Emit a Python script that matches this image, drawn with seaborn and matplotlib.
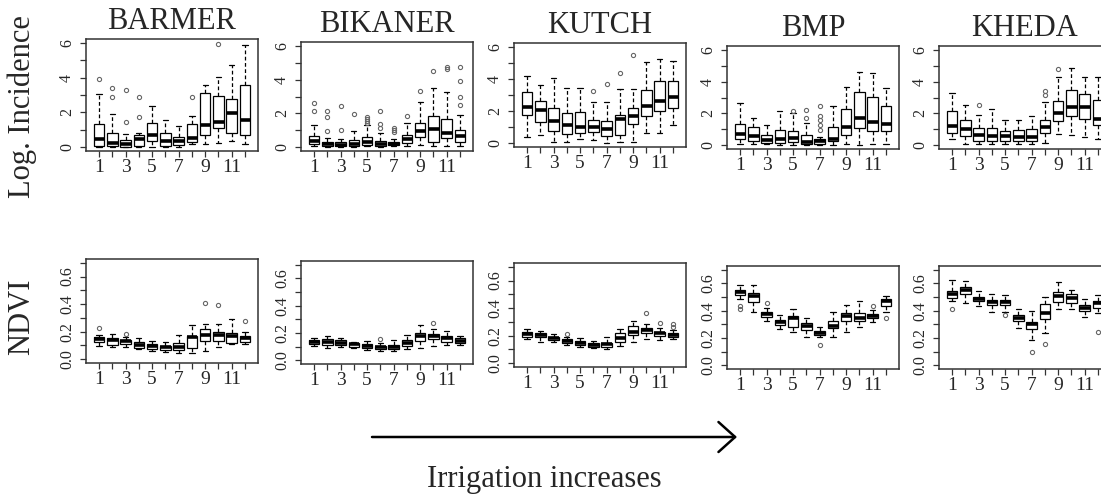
import numpy as np
import pandas as pd
import matplotlib
matplotlib.use("Agg")
import matplotlib.pyplot as plt
import seaborn as sns

# ---------------------------------------------------------------------------
# Box summaries per month (1..12): (lower whisker, Q1, median, Q3, upper whisker)
# plus the points lying outside the whiskers.
# ---------------------------------------------------------------------------
REGIONS = ["BARMER", "BIKANER", "KUTCH", "BMP", "KHEDA"]
MONTHS = list(range(1, 13))

BARMER_INC = [
    (0.00, 0.06, 0.46, 1.30, 3.05), (0.00, 0.05, 0.25, 0.80, 1.90),
    (0.00, 0.02, 0.15, 0.42, 0.74), (0.00, 0.06, 0.48, 0.66, 0.78),
    (0.00, 0.32, 0.67, 1.37, 2.38), (0.00, 0.06, 0.36, 0.78, 1.58),
    (0.00, 0.10, 0.32, 0.56, 1.18), (0.15, 0.27, 0.53, 1.30, 1.79),
    (0.15, 0.70, 1.24, 3.09, 3.58), (0.25, 1.09, 1.45, 2.95, 4.04),
    (0.32, 0.80, 1.94, 2.78, 4.74), (0.15, 0.70, 1.58, 3.58, 5.87),
]
BARMER_INC_OUT = [[3.94], [2.88, 3.43], [1.43, 3.30], [1.73, 2.88], [], [], [],
                  [2.90], [], [5.96], [], []]

BIKANER_INC = [
    (0.06, 0.17, 0.35, 0.68, 1.30), (0.00, 0.04, 0.17, 0.27, 0.52),
    (0.00, 0.06, 0.14, 0.27, 0.48), (0.00, 0.06, 0.17, 0.41, 0.92),
    (0.05, 0.14, 0.31, 0.60, 1.28), (0.00, 0.06, 0.20, 0.38, 0.84),
    (0.05, 0.12, 0.20, 0.31, 0.45), (0.06, 0.22, 0.48, 0.72, 1.45),
    (0.10, 0.58, 0.95, 1.41, 2.65), (0.06, 0.31, 1.04, 1.86, 3.52),
    (0.06, 0.52, 0.83, 1.66, 3.27), (0.06, 0.31, 0.68, 0.99, 1.90),
]
BIKANER_INC_OUT = [[2.13, 2.60], [0.95, 1.78, 2.13], [0.99, 2.44], [1.97],
                   [1.42, 1.55, 1.68, 1.80], [1.14, 1.35, 2.13], [0.90, 1.00, 1.10],
                   [1.82], [3.31], [4.51], [4.62, 4.76], [2.48, 3.00, 3.93, 4.76]]

KUTCH_INC = [
    (0.37, 1.73, 2.24, 3.19, 4.21), (0.51, 1.32, 2.07, 2.64, 3.62),
    (0.10, 0.75, 1.38, 2.17, 4.07), (0.10, 0.55, 1.10, 1.87, 3.46),
    (0.26, 0.61, 0.98, 1.93, 3.46), (0.20, 0.67, 0.98, 1.46, 2.58),
    (0.04, 0.45, 0.91, 1.36, 2.54), (0.10, 0.51, 1.52, 1.73, 3.39),
    (0.10, 1.22, 1.67, 2.17, 3.39), (0.61, 1.67, 2.34, 3.29, 5.08),
    (0.65, 2.03, 2.64, 3.86, 5.24), (1.16, 2.17, 2.85, 3.86, 5.14),
]
KUTCH_INC_OUT = [[], [], [], [], [], [3.25], [3.66], [4.37], [5.49], [], [], []]

BMP_INC = [
    (0.10, 0.42, 0.69, 1.33, 2.68), (0.10, 0.25, 0.57, 1.16, 1.73),
    (0.06, 0.15, 0.32, 0.67, 1.26), (0.04, 0.15, 0.42, 0.95, 2.12),
    (0.04, 0.17, 0.48, 0.92, 2.00), (0.00, 0.06, 0.21, 0.67, 1.37),
    (0.04, 0.10, 0.25, 0.42, 0.53), (0.04, 0.25, 0.42, 1.15, 2.46),
    (0.10, 0.63, 1.16, 2.25, 3.68), (0.04, 1.05, 1.68, 3.37, 4.63),
    (0.10, 0.88, 1.47, 3.05, 4.53), (0.10, 0.91, 1.33, 2.46, 3.58),
]
BMP_INC_OUT = [[], [], [], [], [2.12], [1.68, 2.21], [0.95, 1.26, 1.58, 1.83, 2.48],
               [], [], [], [], []]

KHEDA_INC = [
    (0.41, 0.77, 1.18, 2.12, 3.26), (0.10, 0.60, 1.04, 1.60, 2.53),
    (0.08, 0.29, 0.62, 1.08, 1.91), (0.08, 0.29, 0.56, 1.08, 2.26),
    (0.08, 0.29, 0.56, 0.91, 1.60), (0.08, 0.29, 0.52, 0.98, 1.60),
    (0.08, 0.25, 0.52, 1.02, 1.85), (0.15, 0.77, 1.12, 1.60, 2.74),
    (0.71, 1.52, 2.05, 2.80, 4.29), (0.66, 1.85, 2.43, 3.46, 4.88),
    (0.50, 1.64, 2.43, 3.20, 4.29), (0.39, 1.29, 1.66, 2.84, 4.29),
]
KHEDA_INC_OUT = [[], [], [2.53], [], [], [], [], [3.15, 3.40], [4.80], [], [], []]

BARMER_NDVI = [
    (0.093, 0.123, 0.147, 0.160, 0.172), (0.090, 0.105, 0.140, 0.155, 0.184),
    (0.086, 0.112, 0.130, 0.138, 0.160), (0.074, 0.081, 0.106, 0.123, 0.155),
    (0.061, 0.074, 0.098, 0.110, 0.135), (0.049, 0.066, 0.086, 0.098, 0.128),
    (0.042, 0.069, 0.091, 0.115, 0.172), (0.044, 0.081, 0.160, 0.167, 0.250),
    (0.061, 0.130, 0.177, 0.220, 0.258), (0.091, 0.130, 0.177, 0.197, 0.258),
    (0.110, 0.118, 0.165, 0.190, 0.290), (0.110, 0.123, 0.152, 0.165, 0.197),
]
BARMER_NDVI_OUT = [[0.225], [], [0.182], [], [], [], [], [], [0.405], [0.393], [], [0.275]]

BIKANER_NDVI = [
    (0.107, 0.119, 0.136, 0.149, 0.160), (0.087, 0.112, 0.136, 0.154, 0.179),
    (0.094, 0.112, 0.129, 0.149, 0.160), (0.087, 0.100, 0.117, 0.129, 0.136),
    (0.074, 0.087, 0.104, 0.117, 0.144), (0.070, 0.079, 0.094, 0.104, 0.124),
    (0.070, 0.079, 0.100, 0.112, 0.149), (0.082, 0.107, 0.129, 0.149, 0.186),
    (0.087, 0.144, 0.174, 0.199, 0.260), (0.105, 0.156, 0.179, 0.191, 0.228),
    (0.112, 0.136, 0.161, 0.174, 0.216), (0.112, 0.124, 0.144, 0.161, 0.174),
]
BIKANER_NDVI_OUT = [[], [], [], [], [], [0.156], [], [], [], [0.273], [], []]

KUTCH_NDVI = [
    (0.173, 0.193, 0.212, 0.224, 0.246), (0.156, 0.188, 0.205, 0.222, 0.237),
    (0.151, 0.168, 0.180, 0.193, 0.210), (0.132, 0.148, 0.163, 0.172, 0.190),
    (0.120, 0.132, 0.149, 0.163, 0.180), (0.107, 0.120, 0.132, 0.149, 0.161),
    (0.102, 0.115, 0.137, 0.149, 0.188), (0.124, 0.156, 0.180, 0.217, 0.246),
    (0.151, 0.205, 0.229, 0.270, 0.307), (0.173, 0.217, 0.241, 0.254, 0.283),
    (0.168, 0.198, 0.217, 0.229, 0.254), (0.173, 0.193, 0.205, 0.217, 0.241),
]
KUTCH_NDVI_OUT = [[], [], [], [0.215], [], [], [], [], [], [0.363], [0.290], [0.260, 0.283]]

BMP_NDVI = [
    (0.484, 0.518, 0.538, 0.550, 0.586), (0.392, 0.465, 0.506, 0.530, 0.586),
    (0.326, 0.355, 0.375, 0.392, 0.423), (0.263, 0.294, 0.319, 0.331, 0.372),
    (0.246, 0.277, 0.343, 0.360, 0.409), (0.209, 0.258, 0.287, 0.307, 0.343),
    (0.209, 0.221, 0.238, 0.251, 0.277), (0.209, 0.275, 0.287, 0.326, 0.392),
    (0.246, 0.325, 0.360, 0.384, 0.440), (0.277, 0.324, 0.350, 0.384, 0.470),
    (0.319, 0.343, 0.360, 0.375, 0.404), (0.392, 0.433, 0.472, 0.484, 0.506),
]
BMP_NDVI_OUT = [[0.409, 0.433], [], [0.457], [], [], [], [0.148], [], [], [], [0.433], [0.343]]

KHEDA_NDVI = [
    (0.470, 0.496, 0.526, 0.548, 0.623), (0.453, 0.521, 0.550, 0.574, 0.616),
    (0.433, 0.470, 0.484, 0.501, 0.545), (0.392, 0.440, 0.465, 0.482, 0.521),
    (0.390, 0.440, 0.465, 0.477, 0.513), (0.275, 0.324, 0.350, 0.367, 0.416),
    (0.185, 0.263, 0.299, 0.319, 0.400), (0.234, 0.336, 0.380, 0.448, 0.501),
    (0.416, 0.465, 0.506, 0.538, 0.611), (0.409, 0.453, 0.494, 0.521, 0.550),
    (0.355, 0.399, 0.423, 0.440, 0.484), (0.384, 0.421, 0.453, 0.470, 0.513),
]
KHEDA_NDVI_OUT = [[0.409], [], [], [], [0.370], [], [0.095], [0.155], [], [], [], [0.246]]

INCIDENCE = [BARMER_INC, BIKANER_INC, KUTCH_INC, BMP_INC, KHEDA_INC]
INCIDENCE_OUT = [BARMER_INC_OUT, BIKANER_INC_OUT, KUTCH_INC_OUT, BMP_INC_OUT, KHEDA_INC_OUT]
NDVI = [BARMER_NDVI, BIKANER_NDVI, KUTCH_NDVI, BMP_NDVI, KHEDA_NDVI]
NDVI_OUT = [BARMER_NDVI_OUT, BIKANER_NDVI_OUT, KUTCH_NDVI_OUT, BMP_NDVI_OUT, KHEDA_NDVI_OUT]


def box_sample(stats, outliers):
    """Sample of 4k+1 values whose quartiles equal the given summary."""
    lo, q1, med, q3, hi = stats
    low = sorted(v for v in outliers if v < q1) + [lo]
    high = [hi] + sorted(v for v in outliers if v > q3)
    k = max(len(low), len(high))
    return (low + [q1] * (k - len(low) + 1) + [med] * (k - 1) + [med]
            + [med] * (k - 1) + [q3] + [q3] * (k - len(high)) + high)


def panel_frame(stats_list, out_list):
    rows = []
    for month, st, out in zip(MONTHS, stats_list, out_list):
        for v in box_sample(st, out):
            rows.append((month, v))
    return pd.DataFrame(rows, columns=["month", "value"])


sns.set_theme(style="ticks")
plt.rcParams["font.family"] = ["Liberation Serif", "DejaVu Serif"]

W, H = 1101, 497
fig = plt.figure(figsize=(W / 100, H / 100), dpi=100)
fig.patch.set_facecolor("white")


def px_axes(left, top, width, bottom):
    return fig.add_axes([left / W, 1 - bottom / H, width / W, (bottom - top) / H])


LEFTS = [86, 301, 514, 727, 939]
TOP_ROW = [(39, 151), (42, 151), (43, 147), (46, 149), (46, 149)]
BOTTOM_ROW = [(259, 363), (261, 364), (263, 367), (266, 369), (266, 369)]
PANEL_W = 172


def draw_boxes(ax, df):
    sns.boxplot(
        data=df, x="month", y="value", native_scale=True, ax=ax,
        color="white", linecolor="black", linewidth=0.9, width=0.8,
        fliersize=3,
        whiskerprops={"linestyle": (0, (3, 2)), "linewidth": 0.9},
        capprops={"linewidth": 0.9},
        medianprops={"linewidth": 2.6, "color": "black"},
        flierprops={"marker": "o", "markerfacecolor": "none",
                    "markeredgecolor": "#666666", "markeredgewidth": 0.8},
    )
    ax.set_xlim(0.02, 12.98)
    ax.set_xticks(MONTHS)
    ax.set_xticklabels([str(m) if m % 2 == 1 else "" for m in MONTHS])
    ax.set_xlabel("")
    ax.set_ylabel("")
    for sp in ax.spines.values():
        sp.set_visible(True)
        sp.set_color("#333333")
        sp.set_linewidth(1.1)
    ax.tick_params(axis="x", length=4.5, width=0.9, pad=1.5, labelsize=14,
                   color="#333333")
    ax.tick_params(axis="y", length=4.5, width=0.9, pad=3.5, labelsize=11.5,
                   labelrotation=90, color="#333333")
    for lab in ax.get_yticklabels():
        lab.set_va("center")


for i, region in enumerate(REGIONS):
    top, bottom = TOP_ROW[i]
    ax = px_axes(LEFTS[i], top, PANEL_W, bottom)
    draw_boxes(ax, panel_frame(INCIDENCE[i], INCIDENCE_OUT[i]))
    ax.set_ylim(-0.24, 6.24)
    ax.set_yticks(range(0, 7))
    ax.set_yticklabels([str(t) if t % 2 == 0 else "" for t in range(0, 7)])
    for lab in ax.get_yticklabels():
        lab.set_va("center")
    ax.set_title(region, fontsize=22, pad=7)

    top, bottom = BOTTOM_ROW[i]
    ax = px_axes(LEFTS[i], top, PANEL_W, bottom)
    draw_boxes(ax, panel_frame(NDVI[i], NDVI_OUT[i]))
    ax.set_ylim(-0.028, 0.728)
    ticks = np.round(np.arange(0, 0.71, 0.1), 1)
    ax.set_yticks(ticks)
    ax.set_yticklabels([f"{t:.1f}" if round(t * 10) % 2 == 0 and t < 0.65 else ""
                        for t in ticks])
    for lab in ax.get_yticklabels():
        lab.set_va("center")

fig.text(22 / W, 1 - 107 / H, "Log. Incidence", rotation=90, ha="center",
         va="center", fontsize=22)
fig.text(22 / W, 1 - 317 / H, "NDVI", rotation=90, ha="center", va="center",
         fontsize=22)

# Direction of increasing irrigation
ov = fig.add_axes([0, 0, 1, 1], facecolor="none")
ov.set_xlim(0, W)
ov.set_ylim(H, 0)
ov.axis("off")
ov.annotate("", xy=(737, 437), xytext=(372, 437),
            arrowprops=dict(arrowstyle="->,head_length=1.0,head_width=0.9",
                            lw=1.8, color="black", shrinkA=0, shrinkB=0))
ov.text(544, 487, "Irrigation increases", ha="center", va="baseline",
        fontsize=22)

fig.savefig("out.png", dpi=100)
